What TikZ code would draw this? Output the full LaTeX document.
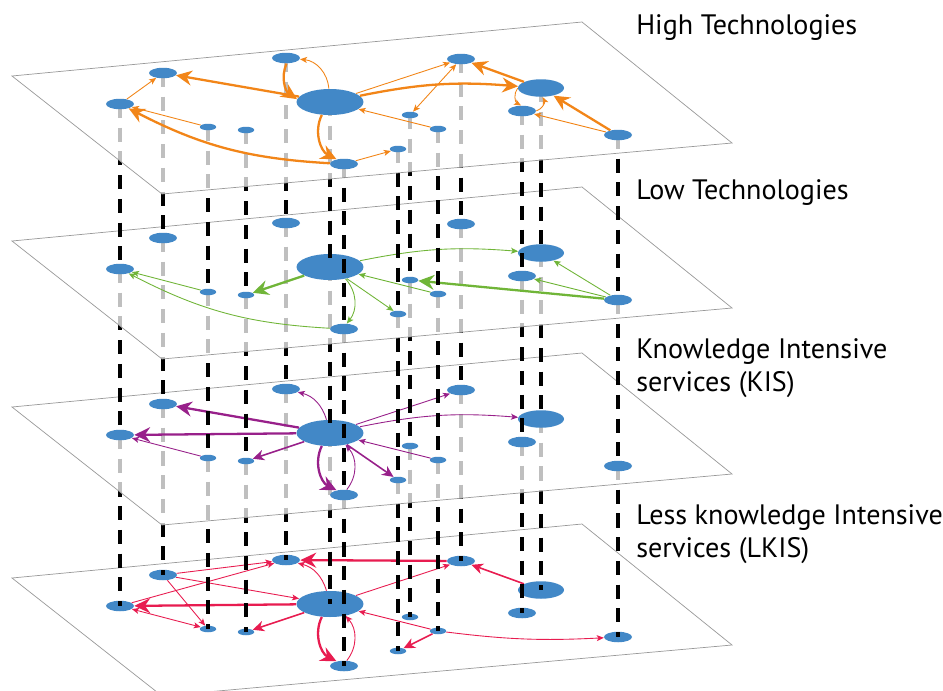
\documentclass[tikz,border=0pt]{standalone}
\usepackage{fontspec}
\setmainfont{PT Sans}
\usetikzlibrary{shapes.geometric,arrows.meta}

\definecolor{nodeblue}{RGB}{66,136,199}
\definecolor{hiorange}{RGB}{242,133,24}
\definecolor{logreen}{RGB}{112,181,56}
\definecolor{kispurple}{RGB}{152,32,138}
\definecolor{lkisred}{RGB}{232,28,80}

\pgfdeclarelayer{pS}\pgfdeclarelayer{eS}\pgfdeclarelayer{dS}
\pgfdeclarelayer{pK}\pgfdeclarelayer{eK}\pgfdeclarelayer{dK}
\pgfdeclarelayer{pL}\pgfdeclarelayer{eL}\pgfdeclarelayer{dL}
\pgfdeclarelayer{pH}
\pgfsetlayers{pS,eS,dS,pK,eK,dK,pL,eL,dL,pH,main}

% one sheet of the multiplex, shifted down by #1
\newcommand{\sheet}[1]{\draw[sheet] (12,76+#1) -- (582,22+#1) -- (732,143+#1) -- (162,194+#1) -- cycle;}
% the same firms on every sheet
\newcommand{\firms}[2]{%
  \foreach \nm/\px/\py/\sz in {1/120/104/nmid,2/163/73/nmid,3/208/127/nsmall,4/246/130/nsmall,
    5/286/58/nmid,6/330/102/nbig,7/344/164/nmid,8/398/149/nsmall,9/410/115/nsmall,
    10/438/129/nsmall,11/461/59/nmid,12/541/88/nlarge,13/522/111/nmid,14/618/135/nmid}
    {\node[\sz] (#1\nm) at (\px,\py+#2) {};}}

\begin{document}
\begin{tikzpicture}[x=0.02cm,y=-0.02cm,
    sheet/.style={draw=gray!80,line width=0.4pt,fill=white,fill opacity=0.75,draw opacity=1},
    firm/.style={ellipse,fill=nodeblue,inner sep=0pt},
    nsmall/.style={firm,minimum width=0.33cm,minimum height=0.13cm},
    nmid/.style={firm,minimum width=0.56cm,minimum height=0.21cm},
    nlarge/.style={firm,minimum width=0.92cm,minimum height=0.35cm},
    nbig/.style={firm,minimum width=1.34cm,minimum height=0.52cm},
    drop/.style={line width=2pt,dash pattern=on 8pt off 5.5pt},
    wthin/.style={line width=0.5pt,>={Stealth[length=4pt,width=3.4pt,inset=1pt]},->},
    wmid/.style={line width=0.9pt,>={Stealth[length=6.5pt,width=6pt,inset=2pt]},->},
    wthick/.style={line width=1.3pt,>={Stealth[length=9pt,width=8.5pt,inset=3pt]},->},
    laytext/.style={anchor=west,align=left,inner sep=0pt,font=\fontsize{16pt}{18.7pt}\selectfont}]
\useasboundingbox (0,0) rectangle (943,690);

% sheets
\begin{pgfonlayer}{pS}\sheet{502}\end{pgfonlayer}
\begin{pgfonlayer}{pK}\sheet{331}\end{pgfonlayer}
\begin{pgfonlayer}{pL}\sheet{165}\end{pgfonlayer}
\begin{pgfonlayer}{pH}\sheet{0}\end{pgfonlayer}

% high technologies
\firms{H}{0}
\begin{scope}[hiorange]
\draw[wthick] (H6) -- (H2);
\draw[wthick] (H5) to[bend right=40] (H6);
\draw[wthin] (H6) to[bend right=40] (H5);
\draw[wthin] (H1) -- (H2);
\draw[wthin] (H3) -- (H1);
\draw[wthick] (H7) to[bend left=12] (H1);
\draw[wthick] (H6) to[bend right=45] (H7);
\draw[wthin] (H7) -- (H8);
\draw[wthin] (H6) -- (H11);
\draw[wthick] (H6) to[bend left=8] (H12);
\draw[wthick] (H12) -- (H11);
\draw[wthin,<->] (H9) -- (H11);
\draw[wthin] (H10) -- (H6);
\draw[wthin] (H12) to[bend right=50] (H13);
\draw[wthin] (H13) to[bend right=50] (H12);
\draw[wthick] (H14) -- (H12);
\draw[wthin] (H14) -- (H13);
\end{scope}

% low technologies
\begin{pgfonlayer}{eL}
\firms{L}{165}
\begin{scope}[logreen]
\draw[wthick] (L6) -- (L4);
\draw[wthin] (L3) -- (L1);
\draw[wthin] (L7) to[bend left=12] (L1);
\draw[wthin] (L6) to[bend left=40] (L7);
\draw[wthin] (L6) -- (L8);
\draw[wthin] (L10) -- (L6);
\draw[wthin] (L6) to[bend left=8] (L12);
\draw[wthick] (L14) -- (L9);
\draw[wthin] (L14) -- (L12);
\draw[wthin] (L14) -- (L13);
\end{scope}
\end{pgfonlayer}

% KIS
\begin{pgfonlayer}{eK}
\firms{K}{331}
\begin{scope}[kispurple]
\draw[wthick] (K6) -- (K2);
\draw[wthick] (K6) -- (K1);
\draw[wthin] (K3) -- (K1);
\draw[wmid] (K6) -- (K4);
\draw[wthin] (K6) to[bend right=30] (K5);
\draw[wthick] (K6) to[bend right=45] (K7);
\draw[wthin] (K7) to[bend right=40] (K6);
\draw[wmid] (K6) -- (K8);
\draw[wthin] (K10) -- (K6);
\draw[wthin] (K6) -- (K11);
\draw[wthin] (K6) to[bend left=8] (K12);
\end{scope}
\end{pgfonlayer}

% LKIS
\begin{pgfonlayer}{eS}
\firms{S}{502}
\begin{scope}[lkisred]
\draw[wthick] (S11) -- (S5);
\draw[wmid] (S12) -- (S11);
\draw[wthin] (S6) -- (S11);
\draw[wthin] (S6) to[bend right=30] (S5);
\draw[wthin] (S2) -- (S5);
\draw[wthin] (S1) -- (S5);
\draw[wthin] (S2) -- (S6);
\draw[wthin] (S2) -- (S3);
\draw[wthick] (S6) -- (S1);
\draw[wthin,<->] (S1) -- (S3);
\draw[wmid] (S6) -- (S4);
\draw[wthick] (S6) to[bend right=45] (S7);
\draw[wthin] (S7) to[bend right=40] (S6);
\draw[wthin] (S10) -- (S6);
\draw[wmid] (S10) -- (S8);
\draw[wthin] (S10) to[bend right=5] (S14);
\end{scope}
\end{pgfonlayer}

% same firm across sheets
\begin{pgfonlayer}{dL}
\foreach \i in {1,...,14} {\draw[drop] (H\i.center) -- (L\i.center);}
\end{pgfonlayer}
\begin{pgfonlayer}{dK}
\foreach \i in {1,...,14} {\draw[drop] (L\i.center) -- (K\i.center);}
\end{pgfonlayer}
\begin{pgfonlayer}{dS}
\foreach \i in {1,...,14} {\draw[drop] (K\i.center) -- (S\i.center);}
\end{pgfonlayer}

\node[laytext] (tH) at (636,28) {High Technologies};
\node[laytext] (tL) at (636,193) {Low Technologies};
\node[laytext] (tK) at (636,368) {Knowledge Intensive\\services (KIS)};
\node[laytext] (tS) at (636,534) {Less knowledge Intensive\\services (LKIS)};
\end{tikzpicture}
\end{document}
